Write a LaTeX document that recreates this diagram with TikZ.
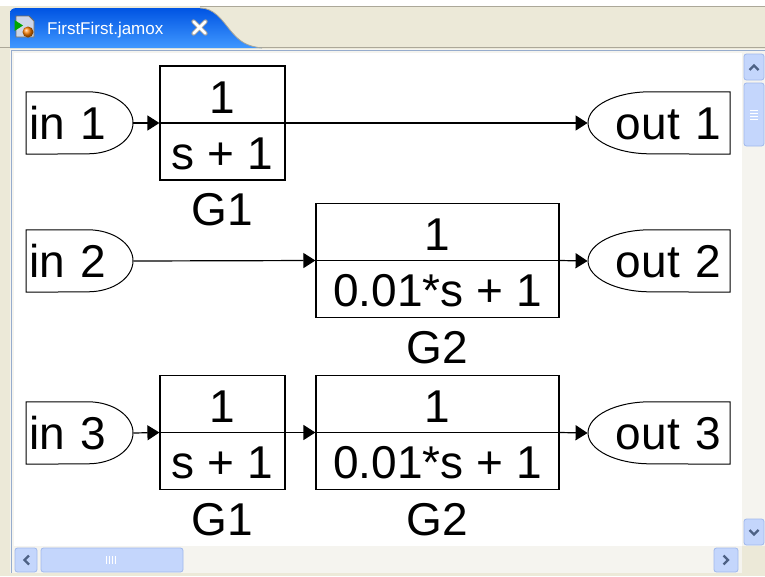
\documentclass[tikz,border=0pt]{standalone}
\usepackage{fontspec}
\setmainfont{Liberation Sans}
\usetikzlibrary{arrows.meta,calc}
\definecolor{xpbeige}{RGB}{236,233,216}
\definecolor{xpline}{RGB}{172,168,153}
\definecolor{xptrack}{RGB}{245,244,239}
\definecolor{sbfill}{RGB}{196,214,252}
\definecolor{sbdraw}{RGB}{160,184,236}
\definecolor{sbglyph}{RGB}{77,97,133}
\definecolor{tabtop}{RGB}{0,84,227}
\definecolor{tabbot}{RGB}{64,152,255}
\definecolor{frameblue}{RGB}{150,172,205}
\begin{document}
\begin{tikzpicture}[x=1pt,y=-1pt,
  big/.style={font=\fontsize{46}{50}\selectfont},
  blk/.style={draw, line width=1.2pt, minimum width=#1, minimum height=114pt, inner sep=0pt},
  inport/.style={big, anchor=west, minimum height=62pt, text width=101pt, align=left,
    inner xsep=3pt, inner ysep=0pt, text height=33pt, text depth=0pt},
  outport/.style={big, anchor=east, minimum height=62pt, text width=124pt, align=right,
    inner xsep=9pt, inner ysep=0pt, text height=33pt, text depth=0pt},
  portline/.style={line width=1pt},
  conn/.style={line width=1.2pt, -{Triangle[length=12pt,width=15pt]}},
  lbl/.style={big, anchor=base, inner sep=0pt},
  sbbtn/.style={fill=sbfill, draw=sbdraw, rounded corners=2.5pt, line width=0.8pt},
  sbglyphline/.style={draw=sbglyph, line width=2.2pt},
]
\useasboundingbox (0,0) rectangle (765,576);
% ---------- window chrome ----------
\fill[xpbeige] (0,0) rectangle (765,576);
\fill[white] (0,0) rectangle (765,6);
\draw[xpline, line width=1.2pt] (200,6.6) -- (765,6.6);
\draw[xpline, line width=1.2pt] (0,47.6) -- (765,47.6);
% tab
\shade[top color=tabtop, bottom color=tabbot]
  (10,48) -- (10,14) .. controls (10,10) and (12,8) .. (17,8) -- (200,8)
  .. controls (214,8) and (222,20) .. (230,30)
  .. controls (240,42) and (246,46) .. (262,48) -- cycle;
\draw[xpline, line width=0.8pt] (200,8) .. controls (214,8) and (222,20) .. (230,30)
  .. controls (240,42) and (246,46) .. (262,48);
% tab icon
\filldraw[fill={rgb,255:red,205;green,214;blue,232}, draw={rgb,255:red,120;green,110;blue,90}, line width=0.8pt]
  (16,16) -- (29,16) -- (34,21) -- (34,37) -- (16,37) -- cycle;
\fill[green!65!black] (14.5,20) -- (23,25.5) -- (14.5,31) -- cycle;
\shade[ball color=orange] (28,32) circle (5.5);
\node[font=\fontsize{17}{20}\selectfont, text=white, anchor=base west, inner sep=0pt] (tabtitle) at (47,34) {FirstFirst.jamox};
% close cross
\draw[line width=4.4pt, gray!75, line cap=round] (193.5,21.5) -- (205.5,33.5) (205.5,21.5) -- (193.5,33.5);
\draw[line width=2.8pt, white, line cap=round] (193.5,21.5) -- (205.5,33.5) (205.5,21.5) -- (193.5,33.5);
% content frame
\fill[xptrack] (10,49) rectangle (765,576);
\draw[frameblue, line width=1.2pt] (11.5,576) -- (11.5,50.5) -- (765,50.5);
\fill[white] (14,53) rectangle (742,546);
% vertical scrollbar
\fill[xptrack] (742,53) rectangle (765,546);
\draw[sbbtn] (744,54) rectangle (764,80);
\draw[sbglyphline] (749.5,70) -- (754,65.5) -- (758.5,70);
\draw[sbbtn] (744,83) rectangle (764,146);
\foreach \yy in {110,113,116,119} \draw[white, line width=0.9pt] (750,\yy) -- (758,\yy);
\draw[sbbtn] (744,519) rectangle (764,545);
\draw[sbglyphline] (749.5,530) -- (754,534.5) -- (758.5,530);
% horizontal scrollbar
\fill[xptrack] (14,547) rectangle (742,573);
\draw[sbbtn] (15,548) rectangle (37,572);
\draw[sbglyphline] (29,555.5) -- (24.5,560) -- (29,564.5);
\draw[sbbtn] (41,548) rectangle (183,572);
\foreach \xx in {106,109,112,115} \draw[white, line width=0.9pt] (\xx,556) -- (\xx,564);
\draw[sbbtn] (714,548) rectangle (738,572);
\draw[sbglyphline] (723.5,555.5) -- (728,560) -- (723.5,564.5);
\fill[xpbeige] (742,546) rectangle (765,576);
\fill[xpbeige] (10,573) rectangle (765,576);
% ---------- diagram ----------
% row 1
\node[inport] (in1) at (26,123) {in 1};
\node[blk=125pt] (g1a) at (222.5,123) {};
\node[outport] (out1) at (730,123) {out 1};
% row 2
\node[inport] (in2) at (26,261) {in 2};
\node[blk=243pt] (g2b) at (437.5,260.5) {};
\node[outport] (out2) at (730,261) {out 2};
% row 3
\node[inport] (in3) at (26,433) {in 3};
\node[blk=125pt] (g1c) at (222.5,432.5) {};
\node[blk=243pt] (g2c) at (437.5,432.5) {};
\node[outport] (out3) at (730,433) {out 3};
% port outlines
\foreach \p in {in1,in2,in3}{
  \draw[portline] (\p.north west) -- ++(62,0) .. controls +(24.9,0) and +(0,-17.1) .. ++(45,31)
    .. controls +(0,17.1) and +(24.9,0) .. ++(-45,31) -- (\p.south west) -- cycle;
}
\foreach \p in {out1,out2,out3}{
  \draw[portline] (\p.north east) -- ++(-80,0) .. controls +(-34.2,0) and +(0,-17.1) .. ++(-62,31)
    .. controls +(0,17.1) and +(-34.2,0) .. ++(62,31) -- (\p.south east) -- cycle;
}
% block contents
\foreach \b/\den/\nm in {g1a/{s + 1}/G1, g2b/{0.01*s + 1}/G2, g1c/{s + 1}/G1, g2c/{0.01*s + 1}/G2}{
  \draw[line width=1.2pt] (\b.west) -- (\b.east);
  \node[lbl] (\b num) at ($(\b.center)+(0,-10)$) {1};
  \node[lbl] (\b den) at ($(\b.center)+(0,46)$) {\den};
  \node[lbl] (\b name) at ($(\b.south)+(0,45)$) {\nm};
}
% connectors
\draw[conn] (in1.east) -- (g1a.west);
\draw[conn] (g1a.east) -- (out1.west);
\draw[conn] (in2.east) -- (g2b.west);
\draw[conn] (g2b.east) -- (out2.west);
\draw[conn] (in3.east) -- (g1c.west);
\draw[conn] (g1c.east) -- (g2c.west);
\draw[conn] (g2c.east) -- (out3.west);
\end{tikzpicture}
\end{document}
